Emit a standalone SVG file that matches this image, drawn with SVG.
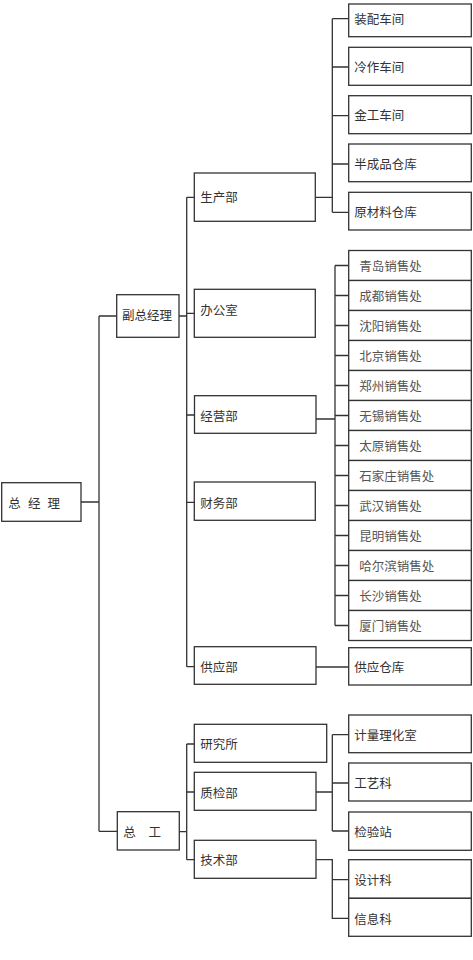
<svg xmlns="http://www.w3.org/2000/svg" width="473" height="960" viewBox="0 0 473 960">
<style>
rect{fill:#fff;stroke:#333;stroke-width:1.3}
text{font-family:"Noto Sans CJK SC","Noto Sans",sans-serif;font-size:12.5px;fill:#333;dominant-baseline:central}
.s{fill:#555}
#connectors path{fill:none;stroke:#333;stroke-width:1.3}
</style>
<rect x="0" y="0" width="473" height="960" style="stroke:none"/>
<g id="connectors">
<path d="M81 502H99M99 316V831.3M99 316H116.7M99 831.3H117.3"/>
<path d="M179 316H186.7M186.7 197.3V666.7M186.7 197.3H194.3M186.7 313.3H194.3M186.7 415H194.3M186.7 502.3H194.3M186.7 666.7H194.3"/>
<path d="M315.3 197.3H332.3M332.3 18.7V212.3M332.3 18.7H348.7M332.3 67H348.7M332.3 115.7H348.7M332.3 164H348.7M332.3 212.3H348.7"/>
<path d="M316 419H335M335 265.5V625.5M335 265.5H348.7M335 295.5H348.7M335 325.5H348.7M335 355.5H348.7M335 385.5H348.7M335 415.5H348.7M335 445.5H348.7M335 475.5H348.7M335 505.5H348.7M335 535.5H348.7M335 565.5H348.7M335 595.5H348.7M335 625.5H348.7"/>
<path d="M316 667H348.7"/>
<path d="M179.3 831.7H186.7M186.7 744V859.7M186.7 744H194.3M186.7 792H194.3M186.7 859.7H194.3"/>
<path d="M316 792H332.3M332.3 734.7V831M332.3 734.7H348.7M332.3 783H348.7M332.3 831H348.7"/>
<path d="M316 859.7H332.3V918.3H348.7M332.3 879.7H348.7"/>
</g>
<g id="n_zjl"><rect x="1.7" y="482.7" width="79.3" height="38.6"/><text x="8.3" y="502">总</text><text x="28" y="502">经</text><text x="47.5" y="502">理</text></g>
<g id="n_fzjl"><rect x="116.7" y="294.7" width="62.3" height="42.6"/><text x="122" y="314.5">副总经理</text></g>
<g id="n_zg"><rect x="117.3" y="811.7" width="62" height="38.3"/><text x="123.3" y="831.7">总</text><text x="148.5" y="831.7">工</text></g>
<g id="n_scb"><rect x="194.3" y="173" width="121" height="48.3"/><text x="200.3" y="196">生产部</text></g>
<g id="n_bgs"><rect x="194.3" y="289.3" width="121" height="48"/><text x="200.3" y="309">办公室</text></g>
<g id="n_jyb"><rect x="194.5" y="395.7" width="121.5" height="37.6"/><text x="200.3" y="415">经营部</text></g>
<g id="n_cwb"><rect x="194.3" y="482" width="121" height="38.3"/><text x="200.3" y="502.3">财务部</text></g>
<g id="n_gyb"><rect x="194.3" y="646.7" width="121.7" height="37.6"/><text x="200.3" y="666">供应部</text></g>
<g id="n_yjs"><rect x="194.3" y="724.3" width="132.4" height="38"/><text x="200.3" y="743.3">研究所</text></g>
<g id="n_zjb"><rect x="194.3" y="772.3" width="121.7" height="38"/><text x="200.3" y="792">质检部</text></g>
<g id="n_jsb"><rect x="194.3" y="840.3" width="121.7" height="38"/><text x="200.3" y="859.7">技术部</text></g>
<g id="n_zpcj"><rect x="348.7" y="4" width="122.6" height="32.7"/><text x="354.3" y="18.7">装配车间</text></g>
<g id="n_lzcj"><rect x="348.7" y="47.3" width="122.6" height="38"/><text x="354.3" y="66.5">冷作车间</text></g>
<g id="n_jgcj"><rect x="348.7" y="95.7" width="122.6" height="38"/><text x="354.3" y="114.7">金工车间</text></g>
<g id="n_bcpck"><rect x="348.7" y="144" width="122.6" height="37.7"/><text x="354.3" y="163">半成品仓库</text></g>
<g id="n_yclck"><rect x="348.7" y="192.3" width="122.6" height="37.7"/><text x="354.3" y="211.5">原材料仓库</text></g>
<g id="n_s1"><rect x="348.7" y="250.5" width="122.6" height="30"/><text class="s" x="359.3" y="265.5">青岛销售处</text></g>
<g id="n_s2"><rect x="348.7" y="280.5" width="122.6" height="30"/><text class="s" x="359.3" y="295.5">成都销售处</text></g>
<g id="n_s3"><rect x="348.7" y="310.5" width="122.6" height="30"/><text class="s" x="359.3" y="325.5">沈阳销售处</text></g>
<g id="n_s4"><rect x="348.7" y="340.5" width="122.6" height="30"/><text class="s" x="359.3" y="355.5">北京销售处</text></g>
<g id="n_s5"><rect x="348.7" y="370.5" width="122.6" height="30"/><text class="s" x="359.3" y="385.5">郑州销售处</text></g>
<g id="n_s6"><rect x="348.7" y="400.5" width="122.6" height="30"/><text class="s" x="359.3" y="415.5">无锡销售处</text></g>
<g id="n_s7"><rect x="348.7" y="430.5" width="122.6" height="30"/><text class="s" x="359.3" y="445.5">太原销售处</text></g>
<g id="n_s8"><rect x="348.7" y="460.5" width="122.6" height="30"/><text class="s" x="359.3" y="475.5">石家庄销售处</text></g>
<g id="n_s9"><rect x="348.7" y="490.5" width="122.6" height="30"/><text class="s" x="359.3" y="505.5">武汉销售处</text></g>
<g id="n_s10"><rect x="348.7" y="520.5" width="122.6" height="30"/><text class="s" x="359.3" y="535.5">昆明销售处</text></g>
<g id="n_s11"><rect x="348.7" y="550.5" width="122.6" height="30"/><text class="s" x="359.3" y="565.5">哈尔滨销售处</text></g>
<g id="n_s12"><rect x="348.7" y="580.5" width="122.6" height="30"/><text class="s" x="359.3" y="595.5">长沙销售处</text></g>
<g id="n_s13"><rect x="348.7" y="610.5" width="122.6" height="30"/><text class="s" x="359.3" y="625.5">厦门销售处</text></g>
<g id="n_gyck"><rect x="348.7" y="647.7" width="122.6" height="37.3"/><text x="354.3" y="666.7">供应仓库</text></g>
<g id="n_jllhs"><rect x="348.7" y="715" width="122.6" height="37.7"/><text x="354.3" y="734.3">计量理化室</text></g>
<g id="n_gyk"><rect x="348.7" y="763" width="122.6" height="38"/><text x="354.3" y="782.7">工艺科</text></g>
<g id="n_jyz"><rect x="348.7" y="812" width="122.6" height="38.3"/><text x="354.3" y="831">检验站</text></g>
<g id="n_sjk"><rect x="348.7" y="859.7" width="122.6" height="38.6"/><text x="354.3" y="879.3">设计科</text></g>
<g id="n_xxk"><rect x="348.7" y="898.3" width="122.6" height="38"/><text x="354.3" y="918.3">信息科</text></g>
</svg>
